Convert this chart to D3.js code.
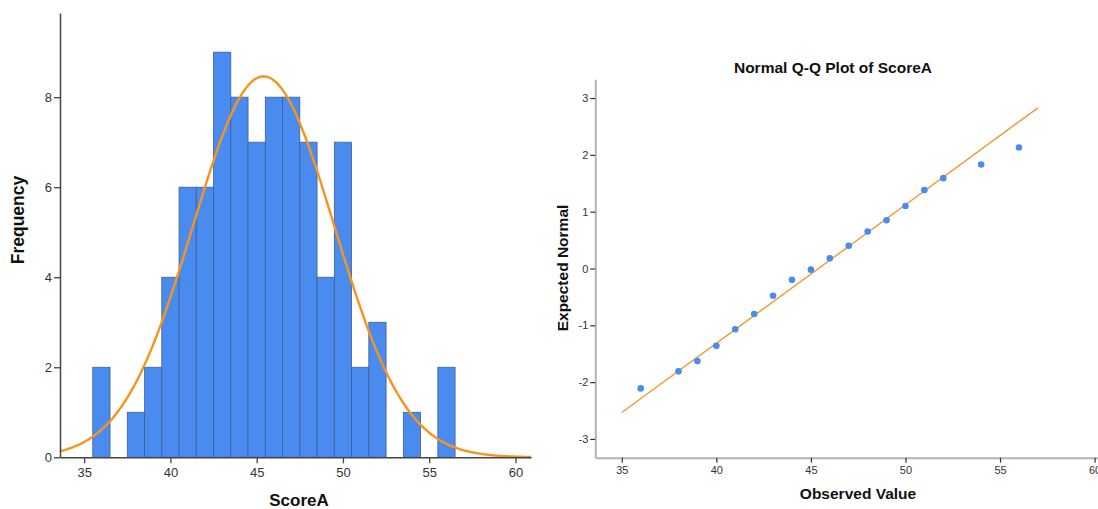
<!DOCTYPE html>
<html><head><meta charset="utf-8">
<script src="https://cdn.jsdelivr.net/npm/d3@7"></script>
<style>body{margin:0;background:#fff}svg{display:block}text{font-family:Arial,"Liberation Sans",sans-serif}</style>
</head><body><svg id="c" width="1098" height="509"></svg>
<script>
// Histogram data (ScoreA, bin width 1)
const scoreValues = [36, 38, 39, 40, 41, 42, 43, 44, 45, 46, 47, 48, 49, 50, 51, 52, 54, 56];
const frequencies = [2, 1, 2, 4, 6, 6, 9, 8, 7, 8, 8, 7, 4, 7, 2, 3, 1, 2];
// Q-Q plot expected normal values per distinct observed value
const expectedNormal = [-2.11, -1.81, -1.63, -1.36, -1.07, -0.80, -0.48, -0.20, -0.02, 0.18, 0.40, 0.65, 0.85, 1.10, 1.38, 1.59, 1.83, 2.13];
const histXTicks = [35, 40, 45, 50, 55, 60];
const histYTicks = [0, 2, 4, 6, 8];
const qqXTicks = [35, 40, 45, 50, 55, 60];
const qqYTicks = [-3, -2, -1, 0, 1, 2, 3];

const svg = d3.select("#c");
const n = d3.sum(frequencies);
const mean = d3.sum(scoreValues.map((v, i) => v * frequencies[i])) / n;
const sd = Math.sqrt(d3.sum(scoreValues.map((v, i) => frequencies[i] * (v - mean) ** 2)) / (n - 1));
const fmt = d => String(d);

// ---------- Histogram ----------
const hx = d3.scaleLinear().domain([33.6, 60.9]).range([60, 531]);
const hy = d3.scaleLinear().domain([0, 9.87]).range([457.3, 13]);
const H = svg.append("g");
H.selectAll("rect.bar").data(scoreValues).join("rect")
  .attr("x", d => hx(d - 0.5)).attr("width", d => hx(d + 0.5) - hx(d - 0.5))
  .attr("y", (d, i) => hy(frequencies[i])).attr("height", (d, i) => hy(0) - hy(frequencies[i]))
  .attr("fill", "#4a8bef").attr("stroke", "#3d5f99").attr("stroke-width", 0.8);

const curvePts = d3.range(33.6, 60.9001, 0.1).map(x => [x, n * Math.exp(-0.5 * ((x - mean) / sd) ** 2) / (sd * Math.sqrt(2 * Math.PI))]);
H.append("path").datum(curvePts)
  .attr("d", d3.line().x(d => hx(d[0])).y(d => hy(d[1])).curve(d3.curveBasis))
  .attr("fill", "none").attr("stroke", "#f7941d").attr("stroke-width", 2.4);

const hxAxis = H.append("g").attr("transform", `translate(0,${hy(0)})`)
  .call(d3.axisBottom(hx).tickValues(histXTicks).tickFormat(fmt).tickSize(6).tickPadding(4).tickSizeOuter(0));
const hyAxis = H.append("g").attr("transform", `translate(${hx(33.6)},0)`)
  .call(d3.axisLeft(hy).tickValues(histYTicks).tickFormat(fmt).tickSize(6).tickPadding(2).tickSizeOuter(0));
[hxAxis, hyAxis].forEach(a => {
  a.select(".domain").attr("stroke", "#444").attr("stroke-width", 1.5);
  a.selectAll(".tick line").attr("stroke", "#444").attr("stroke-width", 1.3);
  a.selectAll(".tick text").attr("fill", "#333").style("font-size", "13px");
});
H.append("text").attr("x", 299).attr("y", 506).attr("text-anchor", "middle")
  .style("font-size", "17px").style("font-weight", "bold").attr("fill", "#111").text("ScoreA");
H.append("text").attr("transform", "translate(24,220) rotate(-90)").attr("text-anchor", "middle")
  .style("font-size", "17.5px").style("font-weight", "bold").attr("fill", "#111").text("Frequency");

// ---------- Q-Q Plot ----------
const qx = d3.scaleLinear().domain([33.6, 60.18]).range([595.3, 1098]);
const qy = d3.scaleLinear().domain([-3.33, 3.33]).range([457.7, 79.3]);
const Q = svg.append("g");
const qxAxis = Q.append("g").attr("transform", `translate(0,${qy(-3.33)})`)
  .call(d3.axisBottom(qx).tickValues(qqXTicks).tickFormat(fmt).tickSize(5).tickPadding(4).tickSizeOuter(0));
const qyAxis = Q.append("g").attr("transform", `translate(${qx(33.6)},0)`)
  .call(d3.axisLeft(qy).tickValues(qqYTicks).tickFormat(fmt).tickSize(5).tickPadding(2).tickSizeOuter(0));
[qxAxis, qyAxis].forEach(a => {
  a.select(".domain").attr("stroke", "#b3b3b3").attr("stroke-width", 2);
  a.selectAll(".tick line").attr("stroke", "#333").attr("stroke-width", 1.2);
  a.selectAll(".tick text").attr("fill", "#333").style("font-size", "11px");
});
Q.append("line")
  .attr("x1", qx(35)).attr("y1", qy((35 - mean) / sd))
  .attr("x2", qx(57)).attr("y2", qy((57 - mean) / sd))
  .attr("stroke", "#f0962e").attr("stroke-width", 1.3);
Q.selectAll("circle").data(scoreValues).join("circle")
  .attr("cx", d => qx(d)).attr("cy", (d, i) => qy(expectedNormal[i])).attr("r", 3.3)
  .attr("fill", "#4a8bef");
Q.append("text").attr("x", 833).attr("y", 73).attr("text-anchor", "middle")
  .style("font-size", "15.5px").style("font-weight", "bold").attr("fill", "#111").text("Normal Q-Q Plot of ScoreA");
Q.append("text").attr("x", 858).attr("y", 499).attr("text-anchor", "middle")
  .style("font-size", "15.5px").style("font-weight", "bold").attr("fill", "#111").text("Observed Value");
Q.append("text").attr("transform", "translate(568,268) rotate(-90)").attr("text-anchor", "middle")
  .style("font-size", "15.5px").style("font-weight", "bold").attr("fill", "#111").text("Expected Normal");
</script></body></html>
